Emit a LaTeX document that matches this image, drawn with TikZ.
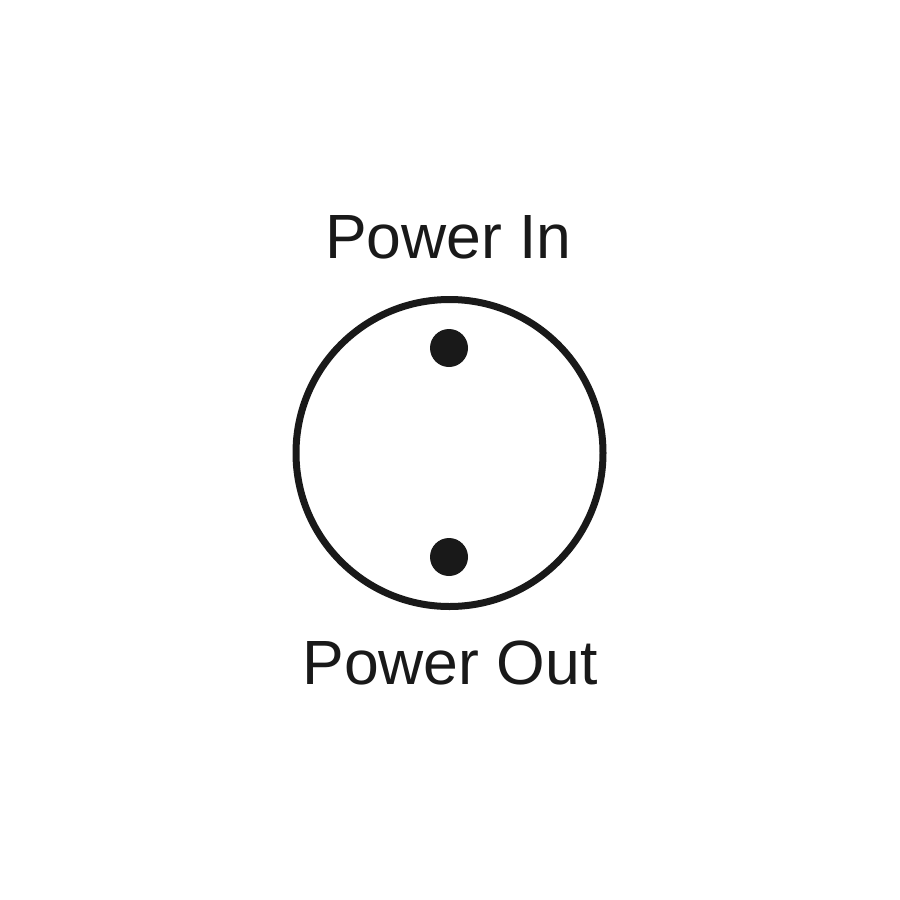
\documentclass[tikz,border=0pt]{standalone}
\usepackage{fontspec}
\setmainfont{Liberation Sans}
\begin{document}
\begin{tikzpicture}[x=1pt,y=-1pt,
  lbl/.style={anchor=base,inner sep=0pt,font=\fontsize{62.5}{70}\selectfont,text=black!90},
  ring/.style={draw=black!90,line width=7pt},
  pin/.style={fill=black!90}]
\useasboundingbox (0,0) rectangle (900,900);
\node[lbl] (in) at (448.5,258.5) {Power In};
\node[lbl] (out) at (450,684.5) {Power Out};
\draw[ring] (449.5,453) circle[radius=153.5];
\fill[pin] (449,348) circle[radius=19];
\fill[pin] (449,557) circle[radius=19];
\end{tikzpicture}
\end{document}
